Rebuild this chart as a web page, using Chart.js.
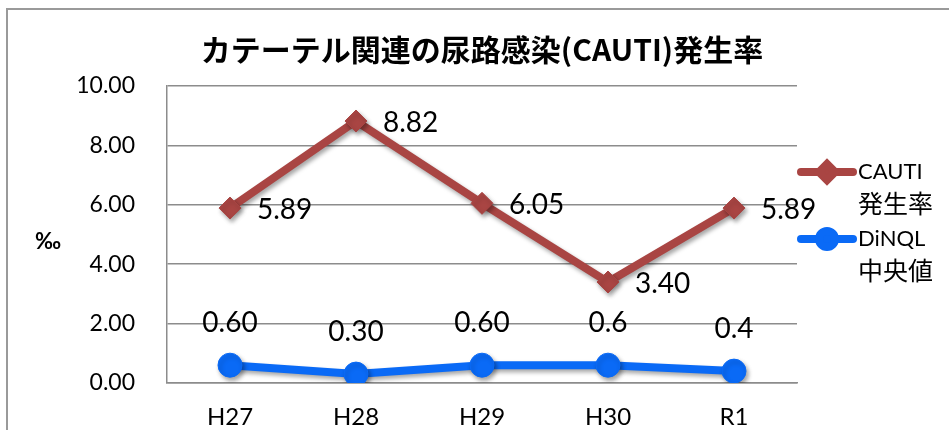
<!DOCTYPE html>
<html>
<head>
<meta charset="utf-8">
<script src="https://cdn.jsdelivr.net/npm/chart.js@4"></script>
<style>
  html, body { margin: 0; padding: 0; background: #fff; }
  #wrap { width: 949px; height: 430px; position: relative; }
</style>
</head>
<body>
<div id="wrap"><canvas id="chart"></canvas></div>
<script>
      const categories = ['H27', 'H28', 'H29', 'H30', 'R1'];
      const cautiValues = [5.89, 8.82, 6.05, 3.40, 5.89];
      const cautiLabels = ['5.89', '8.82', '6.05', '3.40', '5.89'];
      const dinqlValues = [0.60, 0.30, 0.60, 0.6, 0.4];
      const dinqlLabels = ['0.60', '0.30', '0.60', '0.6', '0.4'];
      const yTicks = [0, 2, 4, 6, 8, 10];
      const titleText = 'カテーテル関連の尿路感染(CAUTI)発生率';

      const FONT = "Lato, 'Noto Sans CJK JP', sans-serif";
      const CJK = "'Noto Sans CJK JP', sans-serif";
      const RED = '#A94543';
      const BLUE = '#0A6AF6';

      // frame, title, shadow, data labels and legend
      const framePlugin = {
        id: 'frame',
        beforeDraw(chart) {
          const ctx = chart.ctx;
          ctx.save();
          ctx.fillStyle = '#fff';
          ctx.fillRect(0, 0, chart.width, chart.height);
          ctx.strokeStyle = '#9a9a9a';
          ctx.lineWidth = 2;
          ctx.beginPath();
          ctx.moveTo(7, chart.height + 5);
          ctx.lineTo(7, 9);
          ctx.lineTo(chart.width + 5, 9);
          ctx.stroke();

          ctx.fillStyle = '#000';
          ctx.font = 'bold 30px ' + CJK;
          ctx.textAlign = 'center';
          ctx.textBaseline = 'middle';
          ctx.fillText(titleText, 482, 50);
          ctx.restore();
        },
        beforeDatasetsDraw(chart) {
          const ctx = chart.ctx;
          ctx.save();
          ctx.shadowColor = 'rgba(0,0,0,0.35)';
          ctx.shadowBlur = 4;
          ctx.shadowOffsetX = 2;
          ctx.shadowOffsetY = 3;
        },
        afterDatasetsDraw(chart) {
          const ctx = chart.ctx;
          ctx.restore();

          // data labels
          ctx.save();
          ctx.fillStyle = '#000';
          ctx.font = '28px ' + FONT;
          const m0 = chart.getDatasetMeta(0);
          ctx.textAlign = 'left';
          ctx.textBaseline = 'middle';
          m0.data.forEach((pt, i) => {
            ctx.fillText(cautiLabels[i], pt.x + 27, pt.y + 2);
          });
          const m1 = chart.getDatasetMeta(1);
          ctx.textAlign = 'center';
          m1.data.forEach((pt, i) => {
            ctx.fillText(dinqlLabels[i], pt.x, pt.y - 42);
          });
          ctx.restore();
        },
        afterDraw(chart) {
          const ctx = chart.ctx;
          const area = chart.chartArea;
          ctx.save();
          // y axis title
          ctx.fillStyle = '#000';
          ctx.font = 'bold 22px ' + FONT;
          ctx.textAlign = 'center';
          ctx.textBaseline = 'middle';
          ctx.fillText('‰', 48, 242);

          // legend
          const lx = area.right;
          const items = [
            { color: RED, style: 'rectRot', y: 172, lines: ['CAUTI', '発生率'] },
            { color: BLUE, style: 'circle', y: 239, lines: ['DiNQL', '中央値'] }
          ];
          items.forEach(it => {
            ctx.strokeStyle = it.color;
            ctx.fillStyle = it.color;
            ctx.lineWidth = 8;
            ctx.lineCap = 'round';
            ctx.beginPath();
            ctx.moveTo(lx + 4, it.y);
            ctx.lineTo(lx + 56, it.y);
            ctx.stroke();
            Chart.helpers.drawPoint(ctx, { pointStyle: it.style, radius: 8, borderWidth: 1 }, lx + 30, it.y);
            ctx.fillStyle = '#000';
            ctx.textAlign = 'left';
            ctx.textBaseline = 'middle';
            ctx.font = '22px ' + FONT;
            ctx.fillText(it.lines[0], lx + 61, it.y);
            ctx.font = '25px ' + CJK;
            ctx.fillText(it.lines[1], lx + 61, it.y + 31);
          });
          ctx.restore();
        }
      };

      new Chart(document.getElementById('chart'), {
        type: 'line',
        data: {
          labels: categories,
          datasets: [{
            label: 'CAUTI発生率',
            data: cautiValues,
            borderColor: RED,
            backgroundColor: RED,
            borderWidth: 8,
            pointStyle: 'rectRot',
            pointRadius: 11,
            pointHoverRadius: 11,
            pointBorderWidth: 1,
            tension: 0
          }, {
            label: 'DiNQL中央値',
            data: dinqlValues,
            borderColor: BLUE,
            backgroundColor: BLUE,
            borderWidth: 8,
            pointStyle: 'circle',
            pointRadius: 12,
            pointHoverRadius: 12,
            pointBorderWidth: 1,
            tension: 0
          }]
        },
        options: {
          responsive: true,
          maintainAspectRatio: false,
          animation: false,
          layout: {
            padding: { left: 0, right: 152, top: 86, bottom: 0 }
          },
          scales: {
            x: {
              offset: true,
              afterFit: (scale) => { scale.height = 47; },
              grid: { display: false, drawTicks: false },
              border: { display: true, color: '#8c8c8c', width: 1.5 },
              ticks: {
                color: '#000',
                padding: 20,
                font: { family: FONT, size: 24 }
              }
            },
            y: {
              min: 0,
              max: 10,
              afterBuildTicks: (scale) => {
                scale.ticks = yTicks.map(v => ({ value: v }));
              },
              afterFit: (scale) => { scale.width = 167; },
              grid: { color: '#8c8c8c', lineWidth: 1.5, drawTicks: false },
              border: { display: true, color: '#8c8c8c', width: 1.5 },
              ticks: {
                color: '#000',
                padding: 32,
                font: { family: FONT, size: 23 },
                callback: (v) => Number(v).toFixed(2)
              }
            }
          },
          plugins: {
            legend: { display: false },
            tooltip: { enabled: false },
            title: { display: false }
          }
        },
        plugins: [framePlugin]
      });
</script>
</body>
</html>
